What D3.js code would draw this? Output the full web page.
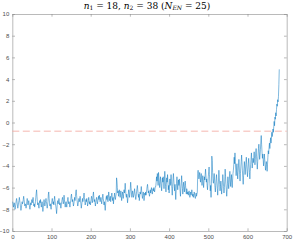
<!DOCTYPE html>
<meta charset="utf-8">
<style>
  body { margin: 0; background: #fff; }
  .tick text { font: 6px "Liberation Sans", sans-serif; fill: #4d4d4d; }
  .title { font-family: "DejaVu Serif", serif; font-size: 9px; fill: #000; }
</style>
<svg width="293" height="241"></svg>
<script src="https://d3js.org/d3.v7.min.js"></script>
<script>
// data, x = 1..681
var values = [
-7.3,-7.5,-7.8,-7.6,-7.4,-7.7,-8.0,-7.8,-7.5,-7.2,-7.0,-7.3,-7.6,-7.9,-7.7,-7.4,-7.2,-6.9,-7.2,-7.5,
-7.8,-8.1,-7.9,-7.6,-7.3,-7.5,-7.4,-7.1,-6.8,-7.1,-7.4,-7.7,-7.5,-7.6,-7.9,-7.7,-7.3,-7.0,-7.3,-7.6,
-7.4,-7.2,-7.5,-7.8,-8.0,-7.7,-7.4,-7.6,-7.3,-7.1,-7.4,-7.2,-6.9,-7.3,-7.7,-7.5,-7.8,-7.6,-7.3,-6.9,
-6.5,-6.2,-6.8,-7.3,-7.6,-7.4,-7.7,-7.9,-7.5,-7.2,-7.4,-7.1,-7.5,-7.8,-7.6,-7.3,-7.7,-8.2,-7.8,-7.4,
-7.1,-7.4,-7.7,-7.5,-7.2,-7.0,-7.3,-7.6,-7.9,-7.6,-7.3,-6.6,-6.4,-7.0,-7.4,-7.7,-7.5,-7.8,-8.0,-7.6,
-7.2,-7.0,-7.3,-7.5,-7.3,-7.6,-7.1,-6.8,-7.2,-7.5,-7.7,-8.0,-8.4,-7.9,-7.4,-7.2,-7.5,-7.3,-7.0,-7.3,
-7.6,-7.4,-7.7,-7.9,-7.6,-7.3,-7.1,-6.9,-7.2,-7.5,-7.3,-6.7,-7.1,-7.5,-7.8,-7.5,-7.3,-7.6,-7.8,-7.4,
-7.1,-6.9,-7.2,-7.5,-7.3,-7.6,-7.8,-7.5,-7.2,-6.8,-6.6,-7.0,-7.3,-7.1,-7.4,-7.7,-7.5,-7.2,-6.9,-7.2,
-6.8,-6.4,-6.2,-6.7,-7.1,-7.4,-7.7,-7.5,-7.2,-7.0,-7.3,-7.1,-6.8,-7.2,-7.5,-7.9,-7.6,-7.3,-7.0,-7.3,
-7.1,-6.8,-6.5,-6.9,-7.3,-7.6,-7.4,-7.1,-7.3,-7.0,-7.3,-7.7,-7.5,-7.2,-6.9,-7.2,-7.5,-7.3,-7.6,-7.4,
-7.1,-6.8,-7.0,-7.4,-7.2,-6.7,-6.4,-6.9,-7.3,-7.1,-7.4,-7.7,-7.4,-7.1,-6.9,-7.2,-7.5,-7.3,-7.0,-6.8,
-7.1,-6.7,-7.0,-7.3,
-7.1,-6.9,-7.2,-7.5,-7.2,-6.9,-6.6,-7.0,-7.3,-7.6,-7.3,-7.7,-8.1,-7.6,-7.0,-6.8,-7.1,-6.7,-7.0,-7.3,
-6.9,-6.4,-6.8,-7.2,-7.0,-6.8,-7.3,-7.0,-6.7,-6.5,-6.9,-7.2,-6.9,-7.5,-7.1,-6.8,-6.5,-6.9,-7.1,-6.8,
-6.6,
-5.1,-5.4,-6.0,-6.5,-6.3,-6.8,-6.5,-6.2,-6.6,-6.9,-6.6,-6.3,-6.8,-7.2,-6.8,-6.4,-6.7,-7.0,-6.6,-6.2,
-6.5,-6.1,-5.6,-6.2,-6.7,-6.9,-6.6,-6.9,-7.4,-7.0,-6.6,-6.2,-6.5,-6.9,-6.6,-6.1,-5.5,-6.0,-6.5,-6.9,
-6.6,-6.3,-6.6,-6.9,-6.7,
-6.4,-6.1,-6.5,-6.8,-7.1,-6.8,-6.4,-6.1,-5.8,-6.2,-6.6,-6.9,-6.6,-7.2,-6.8,-6.4,-6.6,-6.3,-5.9,-6.3,
-6.7,-7.0,-6.7,-6.4,-6.7,-7.2,-6.9,-6.5,-6.7,-6.4,-6.7,-6.5,-6.2,-5.9,-5.7,-6.1,-6.5,-6.3,-6.6,-6.8,
-6.5,-6.2,-6.5,-6.3,-6.0,-6.3,-6.6,-6.4,-6.1,-6.3,-6.0,-6.2,-6.4,-6.1,-5.9,
-5.9,-5.5,-5.0,-5.4,-4.7,-5.2,-5.8,-4.6,-5.1,-5.5,-6.0,-5.6,-5.0,-5.4,-5.9,-6.3,-5.6,-5.1,-5.5,-5.0,
-5.5,-6.1,-5.4,-4.5,-5.2,-5.9,-6.4,-5.7,-5.1,-5.5,-4.8,-5.5,-6.2,-5.8,-6.5,-5.7,-5.2,-5.8,-5.4,-4.8,
-5.4,-6.1,-6.7,-5.9,-5.2,-4.7,-5.3,-5.9,-6.3,-5.7,-6.4,-7.1,-6.3,-5.6,-5.0,-5.6,-6.2,-5.7,-5.3,-5.8,
-5.2,-5.7,-6.3,-6.8,-6.1,-5.5,-4.9,-5.6,-6.1,-6.6,-6.0,-5.5,-5.9,-6.4,-5.9,-5.4,-5.8,-6.3,-6.6,-6.1,
-6.3,-6.6,-6.4,-6.7,-6.5,-6.3,-6.6,-6.9,-6.6,-6.4,-6.7,-6.5,-6.2,-6.5,-6.8,-6.6,-6.9,-6.7,-6.4,-6.6,
-6.9,-7.0,-6.7,-6.5,-6.8,-6.6,-6.4,
-4.7,-4.4,-4.8,-5.2,-4.9,-4.6,-5.1,-5.5,-5.0,-4.7,-5.3,-5.8,-5.3,-4.9,-5.4,-6.0,-5.5,-5.0,-5.3,-4.8,
-4.3,-4.9,-5.5,-5.2,-5.8,-6.2,-5.6,-5.0,-4.5,-4.1,-4.8,-5.6,-6.3,-5.8,-6.9,-5.6,-3.1,-3.5,-4.6,-5.3,
-5.6,-5.2,-4.7,-5.3,-6.0,-6.4,-5.8,-5.2,-4.8,-5.4,-6.1,-6.7,-6.0,-5.4,-4.4,-5.1,-5.7,-6.3,-5.9,-5.4,
-6.0,-6.6,-6.1,-5.5,-4.8,-5.3,-5.9,-6.5,-6.0,-5.4,-4.3,-5.0,-5.7,-6.2,-6.8,-6.2,-5.6,-5.0,-5.5,-6.1,
-5.7,-5.0,-4.5,-5.2,-5.9,-5.4,-4.8,-5.5,-6.0,-5.3,-4.7,-4.4,
-3.9,-3.2,-3.8,-2.8,-3.6,-4.3,-4.9,-4.4,-3.8,-4.5,-5.2,-4.6,-4.0,-3.4,-4.1,-4.8,-5.4,-4.7,-4.1,-3.6,
-3.0,-3.7,-4.4,-5.1,-5.7,-4.9,-4.2,-3.6,-4.2,-4.8,-4.3,-3.7,-3.2,-3.9,-4.5,-5.0,-4.4,-3.8,-3.3,-3.9,
-4.6,-5.2,-4.5,-3.9,-3.4,-2.8,-3.5,-4.2,-3.8,-3.3,-3.7,
-3.2,-2.7,-3.3,-3.9,-3.4,-2.8,-2.4,-3.1,-3.7,-4.3,-3.6,-3.0,-2.4,-2.0,-2.7,-3.4,-3.0,-2.5,-1.8,-1.2,
-2.0,-2.7,-3.3,-2.9,-3.4,-4.0,-3.5,-2.9,-3.4,-3.9,-4.4,-4.0,-3.6,-3.9,-4.5,
-3.9,-3.2,-2.6,-2.9,-2.3,-1.9,-2.4,-1.8,-1.4,-1.9,-1.5,-0.9,-1.3,-1.0,-0.6,-0.9,
-0.4,0.1,-0.3,0.5,0.3,0.9,0.6,1.2,1.7,1.5,2.1,1.9,2.4,3.5,4.9
];
var threshold = -0.8;
var xTicks = [0, 100, 200, 300, 400, 500, 600, 700];
var yTicks = [-10, -8, -6, -4, -2, 0, 2, 4, 6, 8, 10];

var svg = d3.select("svg"),
    margin = {top: 14, right: 6.3, bottom: 10, left: 12.3},
    width = 293 - margin.left - margin.right,
    height = 241 - margin.top - margin.bottom,
    g = svg.append("g").attr("transform", "translate(" + margin.left + "," + margin.top + ")");

var x = d3.scaleLinear().domain([0, 700]).range([0, width]);
var y = d3.scaleLinear().domain([-10, 10]).range([height, 0]);

// axes, MATLAB-like box with inward ticks
var axCol = "#8c8c8c";
function styleAxis(sel) {
  sel.select(".domain").attr("stroke", axCol).attr("stroke-width", 0.6);
  sel.selectAll(".tick line").attr("stroke", axCol).attr("stroke-width", 0.6);
}
g.append("g").attr("transform", "translate(0," + height + ")")
  .call(d3.axisBottom(x).tickValues(xTicks).tickSizeInner(-2.7).tickSizeOuter(0).tickPadding(4))
  .call(styleAxis);
g.append("g")
  .call(d3.axisLeft(y).tickValues(yTicks).tickSizeInner(-2.7).tickSizeOuter(0).tickPadding(3))
  .call(styleAxis);
g.append("g")
  .call(d3.axisTop(x).tickValues(xTicks).tickSizeInner(-2.7).tickSizeOuter(0).tickFormat(""))
  .call(styleAxis);
g.append("g").attr("transform", "translate(" + width + ",0)")
  .call(d3.axisRight(y).tickValues(yTicks).tickSizeInner(-2.7).tickSizeOuter(0).tickFormat(""))
  .call(styleAxis);

// dashed threshold
g.append("line")
  .attr("x1", x(0)).attr("x2", x(700))
  .attr("y1", y(threshold)).attr("y2", y(threshold))
  .attr("stroke", "#f2a59c").attr("stroke-width", 0.8)
  .attr("stroke-dasharray", "7,3.5");

// series
var line = d3.line()
  .x(function(d, i) { return x(i + 1); })
  .y(function(d) { return y(d); });

g.append("path")
  .datum(values)
  .attr("fill", "none")
  .attr("stroke", "#0072bd")
  .attr("stroke-width", 0.5)
  .attr("d", line);

// title with math-style subscripts
var t = svg.append("text").attr("class", "title")
  .attr("x", 147).attr("y", 8.5).attr("text-anchor", "middle");
t.append("tspan").attr("font-style", "italic").text("n");
t.append("tspan").attr("font-size", "6px").attr("dy", 1.5).text("1");
t.append("tspan").attr("dy", -1.5).text(" = 18, ");
t.append("tspan").attr("font-style", "italic").text("n");
t.append("tspan").attr("font-size", "6px").attr("dy", 1.5).text("2");
t.append("tspan").attr("dy", -1.5).text(" = 38 (");
t.append("tspan").attr("font-style", "italic").text("N");
t.append("tspan").attr("font-size", "6px").attr("font-style", "italic").attr("dy", 1.5).text("EN");
t.append("tspan").attr("dy", -1.5).text(" = 25)");
</script>
